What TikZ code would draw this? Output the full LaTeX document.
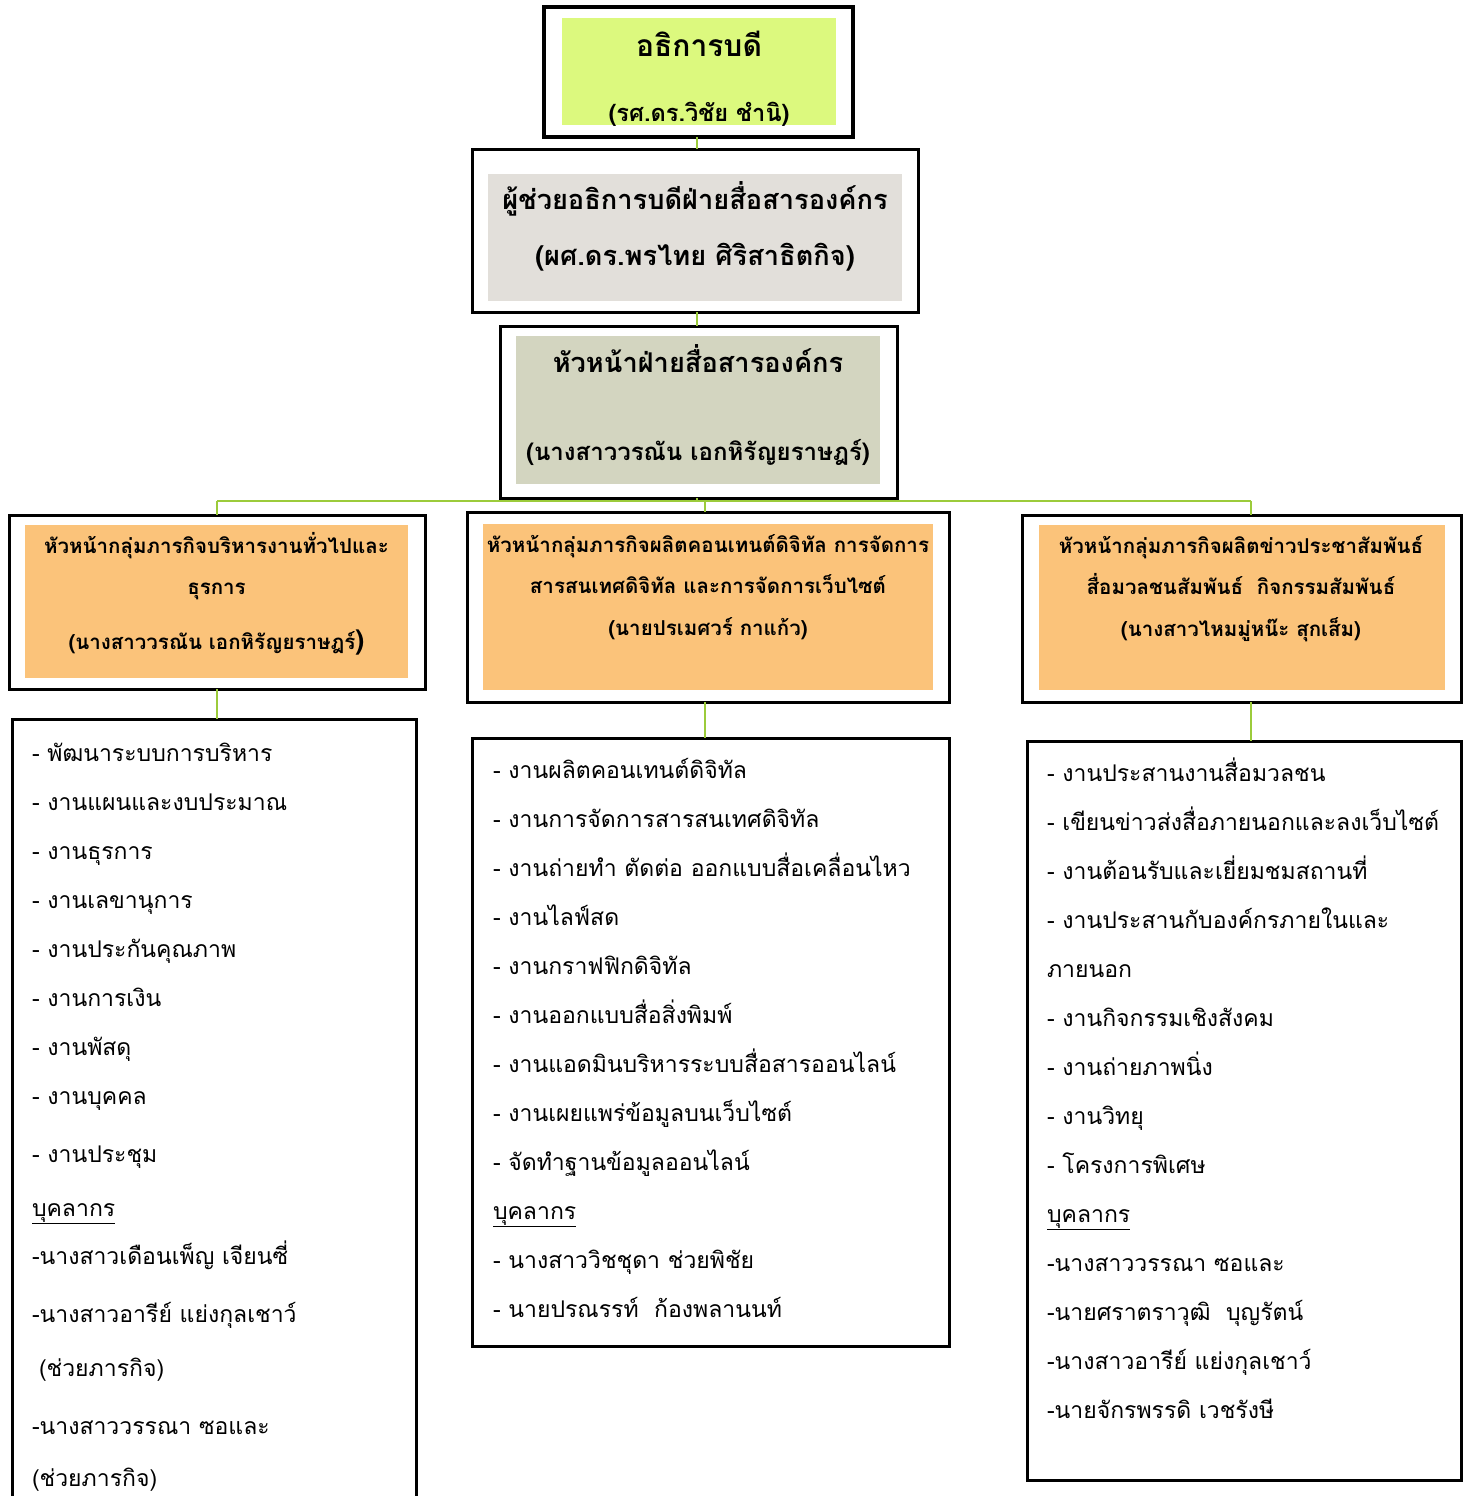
\documentclass[tikz,border=0pt]{standalone}
\usepackage{fontspec}
\newfontfamily\thai[Script=Thai]{Loma}
\usetikzlibrary{positioning}
\definecolor{presgreen}{HTML}{DCF97E}
\definecolor{asstgray}{HTML}{E2DFDA}
\definecolor{headolive}{HTML}{D3D5C0}
\definecolor{grouporange}{HTML}{FBC37A}
\definecolor{linkgreen}{HTML}{9CCB3B}

\begin{document}
\begin{tikzpicture}[
x=1pt, y=-1pt,
every node/.style={font=\thai, inner sep=0, outer sep=0},
frame/.style={draw=black, line width=3pt, rectangle},
tint/.style={rectangle},
link/.style={draw=linkgreen, line width=1.5pt},
titletxt/.style={anchor=base, align=center, font=\thai\bfseries\fontsize{27.2}{56}\selectfont},
grouptxt/.style={anchor=base, align=center, font=\thai\bfseries\fontsize{20.5}{41.5}\selectfont},
listtxt/.style={anchor=base west, align=left, font=\thai\fontsize{23}{49}\selectfont}
]
\useasboundingbox (0,0) rectangle (1466,1496);
\clip (0,0) rectangle (1466,1496);
\fill[white] (0,0) rectangle (1466,1496);

\node[frame, line width=4pt, minimum width=309, minimum height=130] (pres) at (698.5,72) {};
\node[tint, fill=presgreen, minimum width=274, minimum height=107] (presfill) at (699,71.5) {};
\node[titletxt, font=\thai\bfseries\fontsize{30}{65}\selectfont] (prestxt) at (699,121) {อธิการบดี\\{\fontsize{23.6}{23.6}\selectfont(รศ.ดร.วิชัย ชำนิ)}};

\node[frame, minimum width=446, minimum height=163] (asst) at (695,230.5) {};
\node[tint, fill=asstgray, minimum width=414, minimum height=127] (asstfill) at (695,237.5) {};
\node[titletxt] (assttxt) at (695,265) {ผู้ช่วยอธิการบดีฝ่ายสื่อสารองค์กร\\(ผศ.ดร.พรไทย ศิริสาธิตกิจ)};

\node[frame, minimum width=397, minimum height=172] (head) at (698.5,412) {};
\node[tint, fill=headolive, minimum width=364, minimum height=148] (headfill) at (698,410) {};
\node[titletxt, font=\thai\bfseries\fontsize{27.2}{88}\selectfont] (headtxt) at (698,460) {หัวหน้าฝ่ายสื่อสารองค์กร\\{\fontsize{24}{24}\selectfont(นางสาววรณัน เอกหิรัญยราษฎร์)}};

\node[frame, minimum width=416, minimum height=174] (grpL) at (217,602) {};
\node[tint, fill=grouporange, minimum width=383, minimum height=153] (grpLfill) at (216.5,601.5) {};
\node[grouptxt] (grpLtxt) at (216.5,649) {หัวหน้ากลุ่มภารกิจบริหารงานทั่วไปและ\\ธุรการ\\[13pt](นางสาววรณัน เอกหิรัญยราษฎร์{\fontsize{27}{27}\selectfont)}};

\node[frame, minimum width=482, minimum height=190] (grpM) at (708,607) {};
\node[tint, fill=grouporange, minimum width=450, minimum height=166] (grpMfill) at (708,607) {};
\node[grouptxt] (grpMtxt) at (708,635) {หัวหน้ากลุ่มภารกิจผลิตคอนเทนต์ดิจิทัล การจัดการ\\สารสนเทศดิจิทัล และการจัดการเว็บไซต์\\(นายปรเมศวร์ กาแก้ว)};

\node[frame, minimum width=439, minimum height=187] (grpR) at (1241.5,608.5) {};
\node[tint, fill=grouporange, minimum width=406, minimum height=165] (grpRfill) at (1242,607.5) {};
\node[grouptxt] (grpRtxt) at (1241,636) {หัวหน้ากลุ่มภารกิจผลิตข่าวประชาสัมพันธ์\\สื่อมวลชนสัมพันธ์~~กิจกรรมสัมพันธ์\\(นางสาวไหมมู่หน๊ะ สุกเส็ม)};

\node[frame, minimum width=404, minimum height=801] (listL) at (214,1119.5) {};
\node[frame, minimum width=477, minimum height=608] (listM) at (710.5,1042) {};
\node[frame, minimum width=434, minimum height=739] (listR) at (1244,1110.5) {};

\node[listtxt] (tasksL) at (32,1486) {- พัฒนาระบบการบริหาร\\- งานแผนและงบประมาณ\\- งานธุรการ\\- งานเลขานุการ\\- งานประกันคุณภาพ\\- งานการเงิน\\- งานพัสดุ\\- งานบุคคล\\[9pt]- งานประชุม\\[5pt]\underline{บุคลากร}\\[-1pt]-นางสาวเดือนเพ็ญ เจียนซี่\\[9pt]-นางสาวอารีย์ แย่งกุลเชาว์\\[5pt]\hspace{7pt}(ช่วยภารกิจ)\\[9pt]-นางสาววรรณา ซอและ\\[3pt](ช่วยภารกิจ)};
\node[listtxt] (tasksM) at (493,1317) {- งานผลิตคอนเทนต์ดิจิทัล\\- งานการจัดการสารสนเทศดิจิทัล\\- งานถ่ายทำ ตัดต่อ ออกแบบสื่อเคลื่อนไหว\\- งานไลฟ์สด\\- งานกราฟฟิกดิจิทัล\\- งานออกแบบสื่อสิ่งพิมพ์\\- งานแอดมินบริหารระบบสื่อสารออนไลน์\\- งานเผยแพร่ข้อมูลบนเว็บไซต์\\- จัดทำฐานข้อมูลออนไลน์\\\underline{บุคลากร}\\- นางสาววิชชุดา ช่วยพิชัย\\- นายปรณรรท์~~ก้องพลานนท์};
\node[listtxt] (tasksR) at (1047,1418) {- งานประสานงานสื่อมวลชน\\- เขียนข่าวส่งสื่อภายนอกและลงเว็บไซต์\\- งานต้อนรับและเยี่ยมชมสถานที่\\- งานประสานกับองค์กรภายในและ\\ภายนอก\\- งานกิจกรรมเชิงสังคม\\- งานถ่ายภาพนิ่ง\\- งานวิทยุ\\- โครงการพิเศษ\\\underline{บุคลากร}\\-นางสาววรรณา ซอและ\\-นายศราตราวุฒิ~~บุญรัตน์\\-นางสาวอารีย์ แย่งกุลเชาว์\\-นายจักรพรรดิ เวชรังษี};

\coordinate (busL) at (217,501);
\coordinate (busM) at (705,501);
\coordinate (busR) at (1251,501);
\draw[link] (pres.south -| 697,0) -- (asst.north -| 697,0);
\draw[link] (asst.south -| 697,0) -- (head.north -| 697,0);
\draw[link] (head.south -| 697,0) -- (697,501);
\draw[link] (busL) -- (busR);
\draw[link] (busL) -- (busL |- grpL.north);
\draw[link] (busM) -- (busM |- grpM.north);
\draw[link] (busR) -- (busR |- grpR.north);
\draw[link] (busL |- grpL.south) -- (busL |- listL.north);
\draw[link] (busM |- grpM.south) -- (busM |- listM.north);
\draw[link] (busR |- grpR.south) -- (busR |- listR.north);
\end{tikzpicture}
\end{document}
